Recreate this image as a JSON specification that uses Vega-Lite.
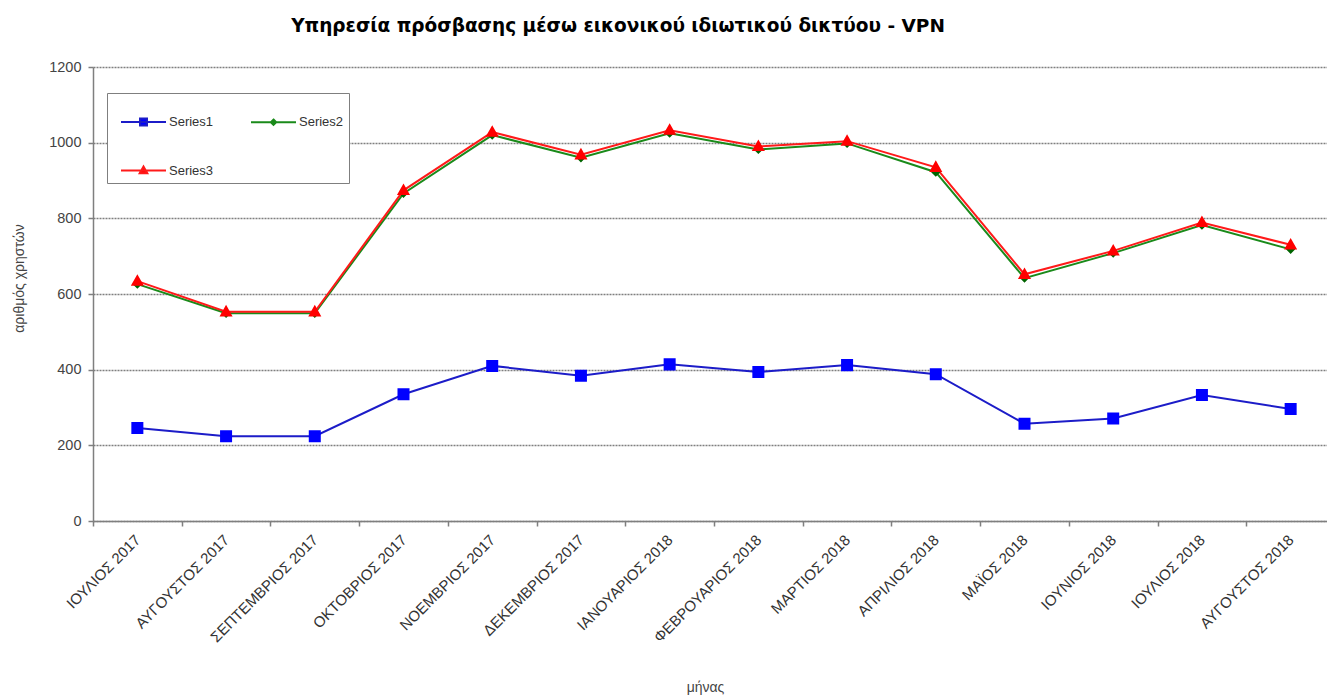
{
  "$schema": "https://vega.github.io/schema/vega-lite/v6.json",
  "width": 1242,
  "height": 454,
  "autosize": {"type": "none"},
  "padding": {"left": 93, "top": 67, "right": 0, "bottom": 174},
  "background": "white",
  "title": {
    "text": "Υπηρεσία πρόσβασης μέσω εικονικού ιδιωτικού δικτύου - VPN",
    "anchor": "start",
    "align": "center",
    "dx": 606,
    "dy": 19,
    "offset": 24,
    "baseline": "bottom",
    "font": "DejaVu Sans",
    "fontSize": 18.5,
    "fontWeight": "bold",
    "color": "#000000"
  },
  "config": {
    "view": {"stroke": null},
    "font": "Liberation Sans"
  },
  "data": {
    "values": [
      {"month": "ΙΟΥΛΙΟΣ 2017", "series": "Series1", "value": 246},
      {"month": "ΑΥΓΟΥΣΤΟΣ 2017", "series": "Series1", "value": 224},
      {"month": "ΣΕΠΤΕΜΒΡΙΟΣ 2017", "series": "Series1", "value": 224},
      {"month": "ΟΚΤΟΒΡΙΟΣ 2017", "series": "Series1", "value": 335},
      {"month": "ΝΟΕΜΒΡΙΟΣ 2017", "series": "Series1", "value": 410},
      {"month": "ΔΕΚΕΜΒΡΙΟΣ 2017", "series": "Series1", "value": 384},
      {"month": "ΙΑΝΟΥΑΡΙΟΣ 2018", "series": "Series1", "value": 414},
      {"month": "ΦΕΒΡΟΥΑΡΙΟΣ 2018", "series": "Series1", "value": 394},
      {"month": "ΜΑΡΤΙΟΣ 2018", "series": "Series1", "value": 412},
      {"month": "ΑΠΡΙΛΙΟΣ 2018", "series": "Series1", "value": 388},
      {"month": "ΜΑΪΟΣ 2018", "series": "Series1", "value": 257},
      {"month": "ΙΟΥΝΙΟΣ 2018", "series": "Series1", "value": 271},
      {"month": "ΙΟΥΛΙΟΣ 2018", "series": "Series1", "value": 333},
      {"month": "ΑΥΓΟΥΣΤΟΣ 2018", "series": "Series1", "value": 296},
      {"month": "ΙΟΥΛΙΟΣ 2017", "series": "Series2", "value": 626},
      {"month": "ΑΥΓΟΥΣΤΟΣ 2017", "series": "Series2", "value": 549},
      {"month": "ΣΕΠΤΕΜΒΡΙΟΣ 2017", "series": "Series2", "value": 549},
      {"month": "ΟΚΤΟΒΡΙΟΣ 2017", "series": "Series2", "value": 866},
      {"month": "ΝΟΕΜΒΡΙΟΣ 2017", "series": "Series2", "value": 1020},
      {"month": "ΔΕΚΕΜΒΡΙΟΣ 2017", "series": "Series2", "value": 960},
      {"month": "ΙΑΝΟΥΑΡΙΟΣ 2018", "series": "Series2", "value": 1025},
      {"month": "ΦΕΒΡΟΥΑΡΙΟΣ 2018", "series": "Series2", "value": 982},
      {"month": "ΜΑΡΤΙΟΣ 2018", "series": "Series2", "value": 998},
      {"month": "ΑΠΡΙΛΙΟΣ 2018", "series": "Series2", "value": 922},
      {"month": "ΜΑΪΟΣ 2018", "series": "Series2", "value": 642},
      {"month": "ΙΟΥΝΙΟΣ 2018", "series": "Series2", "value": 708},
      {"month": "ΙΟΥΛΙΟΣ 2018", "series": "Series2", "value": 782},
      {"month": "ΑΥΓΟΥΣΤΟΣ 2018", "series": "Series2", "value": 718},
      {"month": "ΙΟΥΛΙΟΣ 2017", "series": "Series3", "value": 634},
      {"month": "ΑΥΓΟΥΣΤΟΣ 2017", "series": "Series3", "value": 553},
      {"month": "ΣΕΠΤΕΜΒΡΙΟΣ 2017", "series": "Series3", "value": 553},
      {"month": "ΟΚΤΟΒΡΙΟΣ 2017", "series": "Series3", "value": 874},
      {"month": "ΝΟΕΜΒΡΙΟΣ 2017", "series": "Series3", "value": 1028},
      {"month": "ΔΕΚΕΜΒΡΙΟΣ 2017", "series": "Series3", "value": 968},
      {"month": "ΙΑΝΟΥΑΡΙΟΣ 2018", "series": "Series3", "value": 1033},
      {"month": "ΦΕΒΡΟΥΑΡΙΟΣ 2018", "series": "Series3", "value": 990},
      {"month": "ΜΑΡΤΙΟΣ 2018", "series": "Series3", "value": 1004},
      {"month": "ΑΠΡΙΛΙΟΣ 2018", "series": "Series3", "value": 935},
      {"month": "ΜΑΪΟΣ 2018", "series": "Series3", "value": 652},
      {"month": "ΙΟΥΝΙΟΣ 2018", "series": "Series3", "value": 714},
      {"month": "ΙΟΥΛΙΟΣ 2018", "series": "Series3", "value": 789},
      {"month": "ΑΥΓΟΥΣΤΟΣ 2018", "series": "Series3", "value": 730}
    ]
  },
  "encoding": {
    "x": {
      "field": "month",
      "type": "nominal",
      "sort": ["ΙΟΥΛΙΟΣ 2017", "ΑΥΓΟΥΣΤΟΣ 2017", "ΣΕΠΤΕΜΒΡΙΟΣ 2017", "ΟΚΤΟΒΡΙΟΣ 2017", "ΝΟΕΜΒΡΙΟΣ 2017", "ΔΕΚΕΜΒΡΙΟΣ 2017", "ΙΑΝΟΥΑΡΙΟΣ 2018", "ΦΕΒΡΟΥΑΡΙΟΣ 2018", "ΜΑΡΤΙΟΣ 2018", "ΑΠΡΙΛΙΟΣ 2018", "ΜΑΪΟΣ 2018", "ΙΟΥΝΙΟΣ 2018", "ΙΟΥΛΙΟΣ 2018", "ΑΥΓΟΥΣΤΟΣ 2018"],
      "scale": {"type": "band", "paddingInner": 0, "paddingOuter": 0},
      "axis": {
        "title": "μήνας",
        "titleFont": "Liberation Sans",
        "titleFontSize": 14,
        "titleFontWeight": "normal",
        "titleColor": "#444444",
        "titleX": 612,
        "titleY": 170,
        "titleBaseline": "alphabetic",
        "titleAlign": "center",
        "labelAngle": -45,
        "labelAlign": "right",
        "labelBaseline": "middle",
        "labelPadding": 11,
        "labelFont": "Liberation Sans",
        "labelFontSize": 15,
        "labelColor": "#333333",
        "labelOverlap": false,
        "labelLimit": 300,
        "tickBand": "extent",
        "domainColor": "#7f7f7f",
        "domainWidth": 1.5,
        "tickColor": "#7f7f7f",
        "tickWidth": 1.5,
        "tickSize": 5,
        "grid": false
      }
    },
    "y": {
      "field": "value",
      "type": "quantitative",
      "scale": {"domain": [0, 1200], "nice": false},
      "axis": {
        "title": "αριθμός χρηστών",
        "titleFont": "Liberation Sans",
        "titleFontSize": 14,
        "titleFontWeight": "normal",
        "titleColor": "#444444",
        "titleAngle": -90,
        "titleX": -74,
        "titleY": 211,
        "titleAlign": "center",
        "titleBaseline": "middle",
        "values": [0, 200, 400, 600, 800, 1000, 1200],
        "format": "d",
        "labelFont": "Liberation Sans",
        "labelFontSize": 14.5,
        "labelColor": "#444444",
        "labelPadding": 7,
        "domainColor": "#7f7f7f",
        "domainWidth": 1.5,
        "tickColor": "#7f7f7f",
        "tickWidth": 1.5,
        "tickSize": 5,
        "grid": true,
        "gridColor": "#7f7f7f",
        "gridWidth": 1.5,
        "gridDash": [2, 1]
      }
    }
  },
  "layer": [
    {
      "mark": {"type": "line", "strokeWidth": 2},
      "encoding": {
        "stroke": {
          "field": "series",
          "type": "nominal",
          "scale": {"domain": ["Series1", "Series2", "Series3"], "range": ["#1c1cc8", "#1a8a1a", "#ff1a1a"]}
        },
        "detail": {"field": "series"}
      }
    },
    {
      "mark": {"type": "point", "filled": true, "opacity": 1, "strokeWidth": 0, "size": 5929},
      "encoding": {
        "color": {
          "field": "series",
          "type": "nominal",
          "scale": {"domain": ["Series1", "Series2", "Series3"], "range": ["#0000ff", "#006400", "#ff0000"]},
          "legend": {
            "title": null,
            "orient": "none",
            "direction": "horizontal",
            "legendX": 14,
            "legendY": 26,
            "columns": 2,
            "columnPadding": 28,
            "rowPadding": 17,
            "padding": 5,
            "fillColor": "#ffffff",
            "strokeColor": "#7f7f7f",
            "symbolSize": 2025,
            "symbolOffset": 8,
            "symbolStrokeWidth": 2,
            "labelFont": "Liberation Sans",
            "labelFontSize": 13,
            "labelColor": "#333333",
            "labelOffset": 2,
            "encode": {
              "symbols": {
                "update": {
                  "stroke": {"scale": "stroke", "field": "value"},
                  "strokeWidth": {"value": 2},
                  "size": {"value": 2025},
                  "opacity": {"value": 1}
                }
              }
            }
          }
        },
        "shape": {
          "field": "series",
          "type": "nominal",
          "scale": {
            "domain": ["Series1", "Series2", "Series3"],
            "range": [
              "M-1,0L1,0M-0.156,-0.156L0.156,-0.156L0.156,0.156L-0.156,0.156Z",
              "M-1,0L1,0M0,-0.12L0.12,0L0,0.12L-0.12,0Z",
              "M-1,0L1,0M0,-0.18L0.17,0.12L-0.17,0.12Z"
            ]
          }
        }
      }
    }
  ]
}
